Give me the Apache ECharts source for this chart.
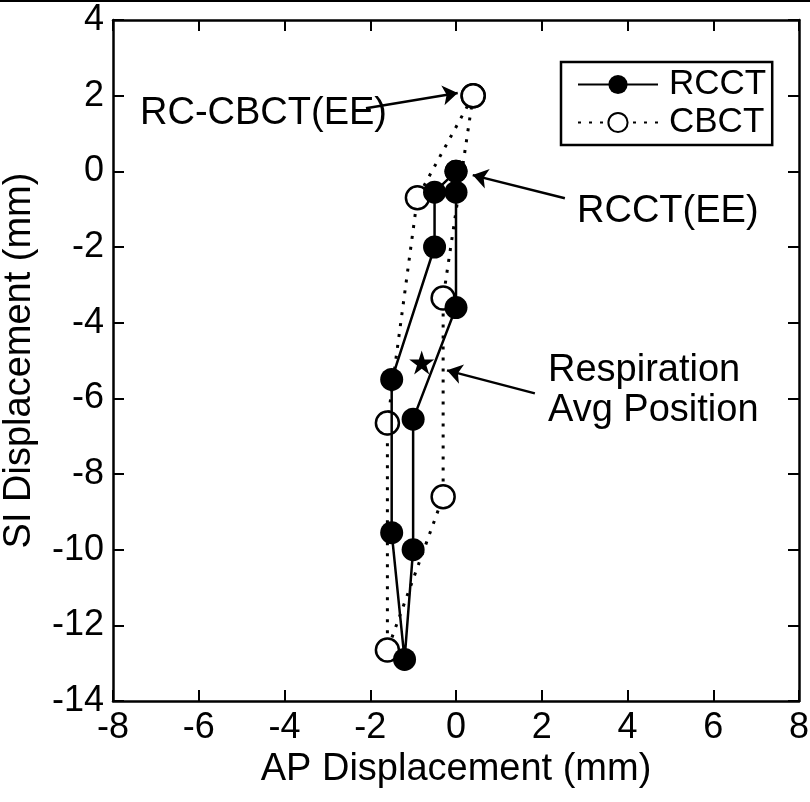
<!DOCTYPE html>
<html>
<head>
<meta charset="utf-8">
<script src="https://cdn.jsdelivr.net/npm/echarts@6/dist/echarts.min.js"></script>
<style>
html,body{margin:0;padding:0;background:#fff;}
#chart{width:810px;height:802px;}
</style>
</head>
<body>
<div id="chart"></div>
<script>
// RCCT (filled circles, solid line) - closed respiratory loop
const rcctX = [0, -0.5, -0.5, -1.5, -1.5, -1.2, -1, -1, 0, 0, 0];
const rcctY = [0, -0.55, -2, -5.5, -9.55, -12.9, -10, -6.55, -3.6, -0.55, 0];
// CBCT (open circles, dotted line) - closed loop
const cbctX = [0.4, -0.3, -0.3, -1.6, -1.6, -0.9, 0.4];
const cbctY = [2, -3.35, -8.6, -12.65, -6.65, -0.7, 2];
// Respiration average position (star)
const avgX = [-0.8];
const avgY = [-5.05];
// Axis ticks
const xTicks = [-8, -6, -4, -2, 0, 2, 4, 6, 8];
const yTicks = [-14, -12, -10, -8, -6, -4, -2, 0, 2, 4];
// Annotation arrows [fromX, fromY, toX, toY]
const arrowRC = [-2.1, 1.67, 0.04, 2.07];
const arrowRCCT = [2.54, -0.71, 0.39, -0.1];
const arrowAvg = [1.84, -5.87, -0.21, -5.26];

const FONT = '"Liberation Sans", Arial, Helvetica, sans-serif';
const NARROW = '"Liberation Sans Narrow", "Liberation Sans", Arial, sans-serif';
const zip = (xs, ys) => xs.map((x, i) => [x, ys[i]]);
const arrowLine = a => [{coord: [a[0], a[1]]}, {coord: [a[2], a[3]]}];

const chart = echarts.init(document.getElementById('chart'), null, {renderer: 'canvas'});
const axisCommon = () => ({
  axisLine: {show: true, onZero: false, lineStyle: {color: '#000', width: 2.5}},
  axisTick: {show: true, inside: true, length: 11, lineStyle: {color: '#000', width: 2}},
  splitLine: {show: false}
});
chart.setOption({
  animation: false,
  backgroundColor: '#fff',
  grid: {left: 113, right: 11, top: 20, bottom: 101, containLabel: false, outerBoundsMode: 'none'},
  xAxis: [
    Object.assign({
      type: 'value', min: xTicks[0], max: xTicks[xTicks.length - 1], interval: 2,
      position: 'bottom',
      name: 'AP Displacement (mm)', nameLocation: 'middle', nameGap: 45,
      nameTextStyle: {color: '#000', fontSize: 38, fontFamily: FONT},
      axisLabel: {color: '#000', fontSize: 36, fontFamily: NARROW, margin: 9}
    }, axisCommon()),
    Object.assign({
      type: 'value', min: xTicks[0], max: xTicks[xTicks.length - 1], interval: 2,
      position: 'top', axisLabel: {show: false}
    }, axisCommon())
  ],
  yAxis: [
    Object.assign({
      type: 'value', min: yTicks[0], max: yTicks[yTicks.length - 1], interval: 2,
      position: 'left',
      name: 'SI Displacement (mm)', nameLocation: 'middle', nameGap: 74,
      nameTextStyle: {color: '#000', fontSize: 38, fontFamily: FONT},
      axisLabel: {color: '#000', fontSize: 36, fontFamily: NARROW, margin: 9}
    }, axisCommon()),
    Object.assign({
      type: 'value', min: yTicks[0], max: yTicks[yTicks.length - 1], interval: 2,
      position: 'right', axisLabel: {show: false}
    }, axisCommon())
  ],
  legend: {
    data: ['RCCT', 'CBCT'],
    orient: 'vertical',
    left: 561, top: 62,
    padding: [5, 6, 5, 16],
    itemGap: 3,
    itemWidth: 80, itemHeight: 24,
    borderColor: '#000', borderWidth: 2.5,
    backgroundColor: '#fff',
    textStyle: {color: '#000', fontSize: 35, fontFamily: FONT, padding: [0, 0, 0, 6]}
  },
  series: [
    {
      name: 'CBCT', type: 'line', data: zip(cbctX, cbctY),
      symbol: 'circle', symbolSize: 23, z: 3,
      lineStyle: {color: '#000', width: 3, type: [3, 8]},
      itemStyle: {color: '#fff', borderColor: '#000', borderWidth: 2.5}
    },
    {
      name: 'RCCT', type: 'line', data: zip(rcctX, rcctY),
      symbol: 'circle', symbolSize: 23, z: 4,
      lineStyle: {color: '#000', width: 2.5, type: 'solid'},
      itemStyle: {color: '#000', borderColor: '#000', borderWidth: 0}
    },
    {
      name: 'Avg', type: 'scatter', data: zip(avgX, avgY), z: 5,
      symbol: 'path://M50,0 L61,35 L98,35 L68,57 L79,91 L50,70 L21,91 L32,57 L2,35 L39,35 Z',
      symbolSize: [25, 24],
      itemStyle: {color: '#000', opacity: 1},
      emphasis: {disabled: true},
      markLine: {
        silent: true, animation: false,
        symbol: ['none', 'arrow'], symbolSize: 15,
        label: {show: false},
        emphasis: {disabled: true},
        lineStyle: {color: '#000', width: 2.5, type: 'solid', opacity: 1},
        itemStyle: {color: '#000'},
        data: [arrowLine(arrowRC), arrowLine(arrowRCCT), arrowLine(arrowAvg)]
      }
    }
  ],
  graphic: [
    {type: 'rect', left: 0, top: 0, shape: {width: 810, height: 2}, style: {fill: '#000'}, z: 100},
    {type: 'text', left: 140, top: 95, style: {text: 'RC-CBCT(EE)', fill: '#000', font: '38px ' + FONT}, z: 100},
    {type: 'text', left: 577, top: 193, style: {text: 'RCCT(EE)', fill: '#000', font: '38px ' + FONT}, z: 100},
    {type: 'text', left: 548, top: 352, style: {text: 'Respiration', fill: '#000', font: '38px ' + FONT}, z: 100},
    {type: 'text', left: 548, top: 392, style: {text: 'Avg Position', fill: '#000', font: '38px ' + FONT}, z: 100}
  ]
});
</script>
</body>
</html>
